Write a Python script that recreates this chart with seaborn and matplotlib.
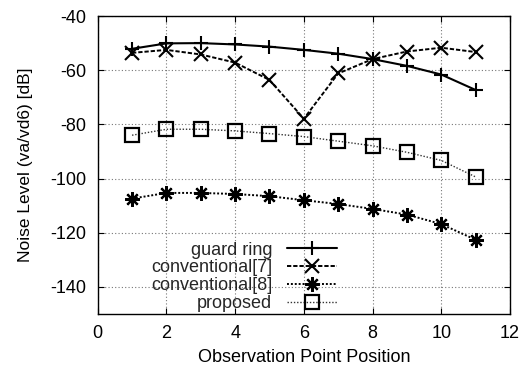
import matplotlib
matplotlib.use("Agg")
import matplotlib.pyplot as plt
import seaborn as sns
import pandas as pd

positions = [1, 2, 3, 4, 5, 6, 7, 8, 9, 10, 11]
guard_ring = [-52.1, -50.1, -50.0, -50.5, -51.3, -52.5, -53.9, -55.9, -58.4, -61.6, -67.3]
conventional7 = [-53.6, -52.5, -54.2, -57.2, -63.6, -77.9, -61.2, -55.9, -53.1, -51.7, -53.3]
conventional8 = [-107.4, -105.3, -105.3, -105.7, -106.5, -108.0, -109.4, -111.2, -113.3, -116.8, -122.6]
proposed = [-84.0, -81.8, -81.8, -82.4, -83.4, -84.5, -86.2, -87.9, -90.3, -93.3, -99.4]
series_names = ["guard ring", "conventional[7]", "conventional[8]", "proposed"]
x_ticks = [0, 2, 4, 6, 8, 10, 12]
y_ticks = [-140, -120, -100, -80, -60, -40]

sns.set_theme(style="white")
plt.rcParams['font.family'] = 'Liberation Sans'
plt.rcParams['axes.unicode_minus'] = False

fig = plt.figure(figsize=(5.27, 3.69), dpi=100)
ax = fig.add_axes([0.1854, 0.149, 0.7823, 0.8076])

styles = [
    dict(linestyle='-', marker='+', lw=1.5, ms=9.5, mew=1.5, color='black'),
    dict(linestyle=(0, (2.2, 1.0)), marker='x', lw=1.4, ms=10.5, mew=1.5, color='black'),
    dict(linestyle=(0, (1, 1.0)), marker=(8, 2, 0), lw=1.4, ms=10.5, mew=1.6, color='black'),
    dict(linestyle=(0, (1, 1.3)), marker='s', lw=1.0, ms=10, mew=1.6, color='#333333'),
]
all_data = [guard_ring, conventional7, conventional8, proposed]
for name, vals, st in zip(series_names, all_data, styles):
    df = pd.DataFrame({"x": positions, "y": vals})
    sns.lineplot(data=df, x="x", y="y", ax=ax, color=st['color'], label=name,
                 linestyle=st['linestyle'], linewidth=st['lw'], marker=st['marker'],
                 markersize=st['ms'], markeredgewidth=st['mew'],
                 markerfacecolor='none', markeredgecolor='black')

ax.set_xlim(0, 12)
ax.set_ylim(-150, -40)
ax.set_xticks(x_ticks)
ax.set_yticks(y_ticks)
ax.grid(True, linestyle=(0, (1, 2)), color='#777777', linewidth=0.8)
for sp in ax.spines.values():
    sp.set_color('black')
    sp.set_linewidth(1.0)
ax.tick_params(direction='in', length=4, width=0.8, colors='black', labelsize=13,
               bottom=True, left=True, top=True, right=True)
ax.tick_params(axis='y', pad=8.5)
ax.tick_params(axis='x', pad=8)
ax.set_xlabel("Observation Point Position", fontsize=13, color='black', labelpad=5)
ax.set_ylabel("Noise Level (va/vd6) [dB]", fontsize=12.5, color='black', labelpad=12)

leg = ax.legend(loc='lower right', bbox_to_anchor=(0.585, 0.0), frameon=False,
                markerfirst=False, fontsize=13, handlelength=2.8,
                labelspacing=0.05, handletextpad=0.8, borderpad=0.1, borderaxespad=0.0)
fig.savefig("out.png", dpi=100)
